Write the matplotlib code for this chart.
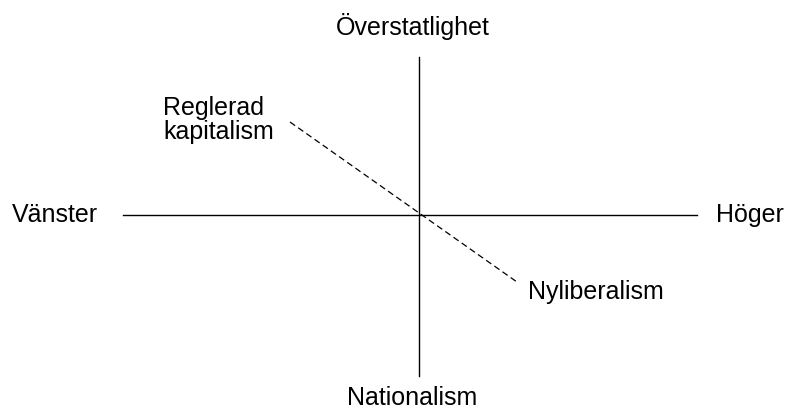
import matplotlib.pyplot as plt

plt.rcParams['font.family'] = ['Liberation Sans', 'DejaVu Sans']

# Diagrammets axlar (koordinater i ett centrerat system, origo i korset)
horizontal_x = [-296, 278]
vertical_y = [158, -161]

# Diagonal mellan reglerad kapitalism och nyliberalism
diag_x = [-129, 98]
diag_y = [93, -67]

# Etiketter: text, x, y, horisontell justering
labels = ['Överstatlighet', 'Nationalism', 'Vänster', 'Höger',
          'Reglerad\nkapitalism', 'Nyliberalism']
label_x = [-6.5, -6.5, -364.5, 330.5, -256, 109]
label_y = [189, -182, 1, 1, 96, -76]
label_ha = ['center', 'center', 'center', 'center', 'left', 'left']

fig = plt.figure(figsize=(7.87, 4.10), dpi=100)
ax = fig.add_axes([0, 0, 1, 1])
ax.set_xlim(-419, 368)
ax.set_ylim(-194, 216)
ax.axis('off')

# axlarna
ax.plot(horizontal_x, [0, 0], color='black', lw=1)
ax.plot([0, 0], vertical_y, color='black', lw=1)
ax.plot(diag_x, diag_y, color='black', lw=0.9, dashes=(5, 3))

for txt, x, y, ha in zip(labels, label_x, label_y, label_ha):
    ax.text(x, y, txt, ha=ha, va='center', fontsize=18,
            linespacing=1.0, color='black')

fig.savefig('out.png', dpi=100)
